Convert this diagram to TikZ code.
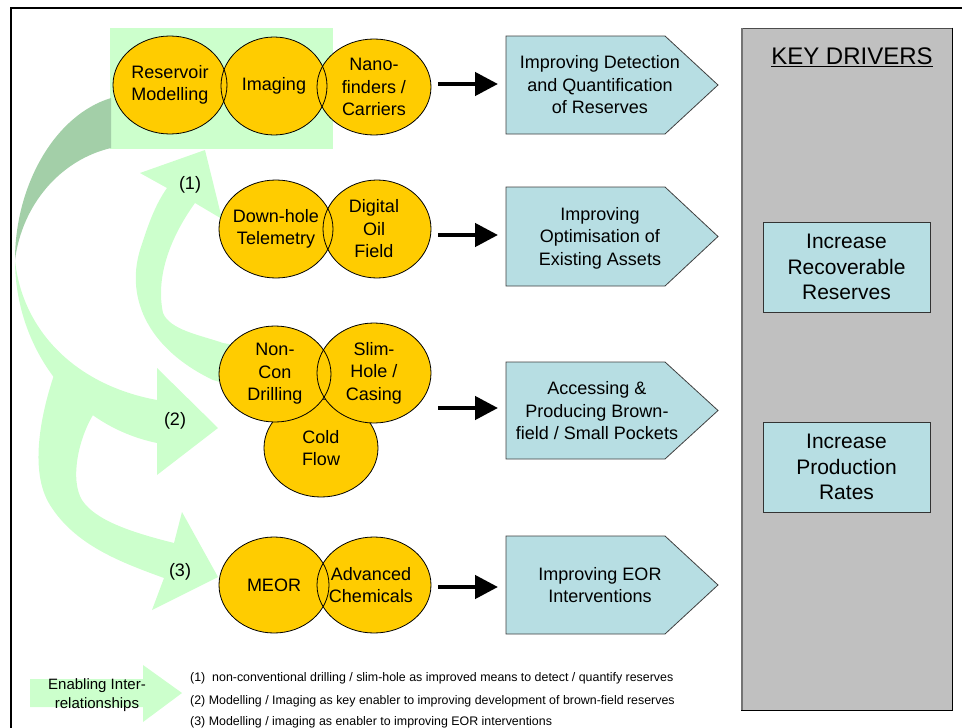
\documentclass[tikz,border=0pt]{standalone}
\usepackage{fontspec}
\setmainfont{Liberation Sans}
\usetikzlibrary{arrows.meta,calc,shapes.geometric}

\definecolor{oilgold}{HTML}{FFCC00}
\definecolor{paleteal}{HTML}{B7DEE3}
\definecolor{mint}{HTML}{CCFFCC}
\definecolor{sage}{HTML}{A3CFA8}
\definecolor{panelgray}{HTML}{C0C0C0}

\newcommand\techfont{\fontsize{18}{22.5}\selectfont}
\newcommand\drvfont{\fontsize{21}{25.5}\selectfont}
\newcommand\notefont{\fontsize{12.4}{14}\selectfont}

\tikzset{
  tech/.style={ellipse, fill=oilgold, inner sep=0pt, outer sep=0pt},
  techtext/.style={align=center, font=\techfont, inner sep=0pt},
  rim/.style={draw=black, line width=0.8pt},
  pent/.style={fill=paleteal, draw=black!75, line width=0.8pt, line join=miter},
  pentext/.style={align=center, font=\techfont, inner sep=0pt},
  blkarrow/.style={line width=4.5pt, -{Triangle[length=23pt,width=23pt]}},
  driver/.style={rectangle, fill=paleteal, draw=black!80, line width=0.8pt,
                 minimum width=167pt, minimum height=90pt, inner sep=0pt,
                 align=center, font=\drvfont},
  numlabel/.style={font=\techfont, inner sep=0pt},
  note/.style={anchor=west, font=\notefont, inner sep=0pt}
}

\begin{document}
\begin{tikzpicture}[x=1pt,y=-1pt]
\useasboundingbox (0,0) rectangle (962,728);
\clip (0,0) rectangle (962,728);

% page frame
\draw[line width=2.3pt] (11,740) -- (11,8) -- (975,8);

% group panel behind the first row of technologies
\node[fill=mint, minimum width=223pt, minimum height=121pt, inner sep=0pt] (grp) at (221.5,88.5) {};

% shaded back of the enabling arrow leaving the group panel
\fill[sage] (111,98) .. controls (55,115) and (15,185) .. (15,260)
            .. controls (22,205) and (60,160) .. (111,148) -- cycle;

% enabling arrow (2)
\fill[mint] (15,260) .. controls (22,330) and (75,385) .. (157,400)
            -- (157,368) -- (218,428) -- (157,475) -- (157,443)
            .. controls (70,425) and (15,345) .. (15,260) -- cycle;

% enabling arrow (3)
\fill[mint] (55,372) .. controls (42,410) and (28,470) .. (50,505)
            .. controls (75,545) and (120,562) .. (164,578)
            -- (152,610) -- (218,577) -- (182,512) -- (174,543)
            .. controls (130,532) and (95,520) .. (82,500)
            .. controls (70,480) and (78,440) .. (93,415)
            -- (75,392) -- cycle;

% enabling arrow (1)
\fill[mint] (230,385) -- (213,380) .. controls (150,350) and (125,300) .. (140,250)
            .. controls (148,225) and (155,205) .. (167,188)
            -- (140,173) -- (205,150) -- (222,219) -- (195,203)
            .. controls (172,235) and (155,275) .. (163,313)
            .. controls (170,330) and (200,335) .. (223,343) -- (235,345) -- cycle;

\node[numlabel] (n1) at (190,185) {(1)};
\node[numlabel] (n2) at (175,421) {(2)};
\node[numlabel] (n3) at (180,572) {(3)};

% row 1: detection
\node[tech, minimum width=114pt, minimum height=98pt,
      label={[techtext]center:Reservoir\\Modelling}] (res) at (170,85) {};
\node[tech, minimum width=106pt, minimum height=98pt,
      label={[techtext]center:Imaging}] (img) at (274,86) {};
\node[tech, minimum width=114pt, minimum height=96pt,
      label={[techtext]center:Nano-\\finders /\\Carriers}] (nano) at (374,87) {};
\draw[rim] (res.center) ellipse [x radius=57, y radius=49];
\draw[rim] (img.center) ellipse [x radius=53, y radius=49];
\draw[rim] (nano.center) ellipse [x radius=57, y radius=48];

% row 2: optimisation
\node[tech, minimum width=114pt, minimum height=98pt,
      label={[techtext]center:Down-hole\\Telemetry}] (dht) at (276,229) {};
\node[tech, minimum width=108pt, minimum height=98pt,
      label={[techtext,xshift=-3pt]center:Digital\\Oil\\Field}] (dof) at (377,229) {};
\draw[rim] (dht.center) ellipse [x radius=57, y radius=49];
\draw[rim] (dof.center) ellipse [x radius=54, y radius=49];

% row 3: brown-field
\node[tech, rim, minimum width=114pt, minimum height=98pt,
      label={[techtext]center:Cold\\Flow}] (cf) at (321,448) {};
\node[tech, minimum width=112pt, minimum height=96pt,
      label={[techtext]center:Non-\\Con\\Drilling}] (ncd) at (275,374) {};
\node[tech, minimum width=114pt, minimum height=100pt,
      label={[techtext]center:Slim-\\Hole /\\Casing}] (shc) at (374,373) {};
\draw[rim] (ncd.center) ellipse [x radius=56, y radius=48];
\draw[rim] (shc.center) ellipse [x radius=57, y radius=50];

% row 4: EOR
\node[tech, minimum width=110pt, minimum height=96pt,
      label={[techtext]center:MEOR}] (meor) at (274,585) {};
\node[tech, minimum width=114pt, minimum height=96pt,
      label={[techtext,xshift=-3pt]center:Advanced\\Chemicals}] (adv) at (374,585) {};
\draw[rim] (meor.center) ellipse [x radius=55, y radius=48];
\draw[rim] (adv.center) ellipse [x radius=57, y radius=48];

% outcome pentagons
\draw[pent] (506,36) -- (665,36) -- (718,85) -- (665,134) -- (506,134) -- cycle;
\coordinate (detIn) at (506,84);
\node[pentext] (det) at (600,85) {Improving Detection\\and Quantification\\of Reserves};

\draw[pent] (506,187) -- (665,187) -- (718,236.5) -- (665,286) -- (506,286) -- cycle;
\coordinate (optIn) at (506,235);
\node[pentext] (opt) at (600,238) {Improving\\Optimisation of\\Existing Assets};

\draw[pent] (506,362) -- (665,362) -- (718,410.5) -- (665,459) -- (506,459) -- cycle;
\coordinate (brnIn) at (506,408);
\node[pentext] (brn) at (597,411) {Accessing \&\\Producing Brown-\\field / Small Pockets};

\draw[pent] (506,536) -- (665,536) -- (718,585) -- (665,634) -- (506,634) -- cycle;
\coordinate (eorIn) at (506,587);
\node[pentext] (eor) at (600,585) {Improving EOR\\Interventions};

% links from technologies to outcomes
\draw[blkarrow] ($(nano.east |- detIn)+(7,0)$) -- ($(detIn)+(-8,0)$);
\draw[blkarrow] ($(dof.east |- optIn)+(7,0)$) -- ($(optIn)+(-8,0)$);
\draw[blkarrow] ($(shc.east |- brnIn)+(7,0)$) -- ($(brnIn)+(-8,0)$);
\draw[blkarrow] ($(adv.east |- eorIn)+(7,0)$) -- ($(eorIn)+(-8,0)$);

% key drivers panel
\node[fill=panelgray, draw=black!70, line width=0.8pt, minimum width=211pt,
      minimum height=682pt, inner sep=0pt] (kd) at (846.5,369) {};
\draw[black!55, line width=2.2pt] ($(kd.south west)+(1,0)$) -- ($(kd.north west)+(1,0)$);
\draw[black, line width=1pt] (kd.north east) -- (kd.south east) -- (kd.south west);
\node[font=\fontsize{24}{28}\selectfont, inner sep=0pt] (kdt) at (852,57) {\underline{KEY DRIVERS}};
\node[driver] (kd1) at (846.5,267) {Increase\\Recoverable\\Reserves};
\node[driver] (kd2) at (846.5,467) {Increase\\Production\\Rates};

% legend
\fill[mint] (30,679) -- (143,679) -- (143,665) -- (182,693) -- (143,722) -- (143,707) -- (30,707) -- cycle;
\node[align=center, font=\fontsize{15}{19}\selectfont, inner sep=0pt] (leg) at (97,695) {Enabling Inter-\\relationships};
\node[note] (l1) at (190,678) {(1)\ \ non-conventional drilling / slim-hole as improved means to detect / quantify reserves};
\node[note] (l2) at (190,701) {(2) Modelling / Imaging as key enabler to improving development of brown-field reserves};
\node[note] (l3) at (190,722) {(3) Modelling / imaging as enabler to improving EOR interventions};
\end{tikzpicture}
\end{document}
